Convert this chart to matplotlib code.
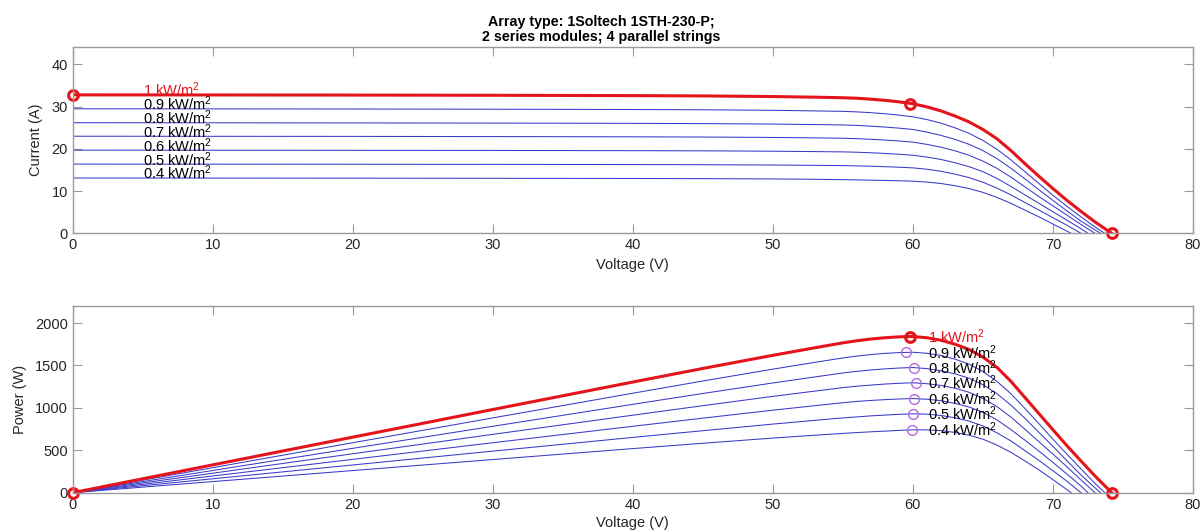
import matplotlib
matplotlib.use("Agg")
import matplotlib.pyplot as plt

# irradiance levels, strongest first
irradiance = ["1", "0.9", "0.8", "0.7", "0.6", "0.5", "0.4"]

# I-V and P-V curves (voltage V, current A, power W)
v_10 = [0, 10, 20, 30, 40, 45, 50, 53, 55, 56, 57, 58, 59, 60, 61, 62, 63, 64, 65, 66, 67, 68, 69, 70, 71, 72, 73, 74.2]
i_10 = [32.8, 32.78, 32.75, 32.7, 32.62, 32.55, 32.4, 32.25, 32.12, 32.0, 31.78, 31.5, 31.15, 30.7,
        29.95, 29.0, 27.8, 26.4, 24.6, 22.4, 19.6, 16.5, 13.5, 10.6, 7.8, 5.2, 2.7, 0]
p_10 = [0, 328, 655, 981, 1305, 1465, 1620, 1709, 1767, 1792, 1812, 1827, 1838, 1842,
        1827, 1798, 1751, 1690, 1599, 1478, 1313, 1122, 932, 742, 554, 374, 197, 0]

v_09 = [0, 10, 20, 30, 40, 45, 50, 53, 55, 56, 57, 58, 59, 60, 61, 62, 63, 64, 65, 66, 67, 68, 69, 70, 71, 72, 73, 73.7]
i_09 = [29.5, 29.48, 29.45, 29.4, 29.33, 29.27, 29.14, 29.0, 28.89, 28.77, 28.58, 28.33, 28.0, 27.6,
        26.95, 26.1, 25.0, 23.7, 22.0, 19.9, 17.4, 14.6, 11.8, 9.0, 6.4, 3.9, 1.5, 0]
p_09 = [0, 295, 589, 882, 1173, 1317, 1457, 1537, 1589, 1611, 1629, 1643, 1652, 1656,
        1644, 1618, 1575, 1517, 1430, 1313, 1166, 993, 814, 630, 454, 281, 110, 0]

v_08 = [0, 10, 20, 30, 40, 45, 50, 53, 55, 56, 57, 58, 59, 60, 61, 62, 63, 64, 65, 66, 67, 68, 69, 70, 71, 72, 73, 73.4]
i_08 = [26.2, 26.18, 26.15, 26.11, 26.05, 25.99, 25.88, 25.76, 25.67, 25.56, 25.38, 25.17, 24.92, 24.6,
        23.98, 23.2, 22.25, 21.1, 19.6, 17.7, 15.4, 12.9, 10.3, 7.8, 5.3, 2.9, 0.8, 0]
p_08 = [0, 262, 523, 783, 1042, 1170, 1294, 1365, 1412, 1431, 1447, 1460, 1470, 1476,
        1463, 1438, 1402, 1350, 1274, 1168, 1032, 877, 711, 546, 376, 209, 58, 0]

v_07 = [0, 10, 20, 30, 40, 45, 50, 53, 55, 56, 57, 58, 59, 60, 61, 62, 63, 64, 65, 66, 67, 68, 69, 70, 71, 72, 73.0]
i_07 = [23.0, 22.98, 22.96, 22.92, 22.86, 22.81, 22.71, 22.61, 22.52, 22.43, 22.27, 22.09, 21.87, 21.6,
        21.07, 20.4, 19.55, 18.5, 17.1, 15.4, 13.3, 11.0, 8.7, 6.5, 4.3, 2.1, 0]
p_07 = [0, 230, 459, 688, 914, 1026, 1136, 1198, 1239, 1256, 1269, 1281, 1290, 1296,
        1285, 1265, 1232, 1184, 1112, 1016, 891, 748, 600, 455, 305, 151, 0]

v_06 = [0, 10, 20, 30, 40, 45, 50, 53, 55, 56, 57, 58, 59, 60, 61, 62, 63, 64, 65, 66, 67, 68, 69, 70, 71, 72, 72.5]
i_06 = [19.7, 19.68, 19.66, 19.63, 19.58, 19.54, 19.45, 19.36, 19.29, 19.21, 19.08, 18.92, 18.73, 18.5,
        18.06, 17.5, 16.72, 15.8, 14.6, 13.0, 11.1, 9.1, 7.1, 5.1, 3.1, 1.1, 0]
p_06 = [0, 197, 393, 589, 783, 879, 973, 1026, 1061, 1076, 1088, 1097, 1105, 1110,
        1102, 1085, 1053, 1011, 949, 858, 744, 619, 490, 357, 220, 79, 0]

v_05 = [0, 10, 20, 30, 40, 45, 50, 53, 55, 56, 57, 58, 59, 60, 61, 62, 63, 64, 65, 66, 67, 68, 69, 70, 71, 72.0]
i_05 = [16.4, 16.38, 16.36, 16.33, 16.29, 16.25, 16.18, 16.1, 16.04, 15.97, 15.89, 15.78, 15.66, 15.5,
        15.18, 14.7, 14.02, 13.2, 12.1, 10.7, 9.1, 7.3, 5.5, 3.7, 1.9, 0]
p_05 = [0, 164, 327, 490, 652, 731, 809, 853, 882, 894, 906, 915, 924, 930,
        926, 911, 883, 845, 787, 706, 610, 496, 380, 259, 135, 0]

v_04 = [0, 10, 20, 30, 40, 45, 50, 53, 55, 56, 57, 58, 59, 60, 61, 62, 63, 64, 65, 66, 67, 68, 69, 70, 71, 71.3]
i_04 = [13.1, 13.08, 13.06, 13.03, 12.99, 12.95, 12.88, 12.8, 12.71, 12.66, 12.59, 12.52, 12.45, 12.35,
        12.14, 11.8, 11.28, 10.6, 9.7, 8.5, 7.1, 5.5, 3.9, 2.2, 0.5, 0]
p_04 = [0, 131, 261, 391, 520, 583, 644, 678, 699, 709, 718, 726, 735, 741,
        741, 732, 711, 678, 631, 561, 476, 374, 269, 154, 36, 0]

# maximum power points
mpp_v = [59.8, 59.5, 60.1, 60.2, 60.1, 60.0, 59.9]
mpp_p = [1835, 1655, 1474, 1294, 1110, 929, 741]
mpp_i_10 = 30.7

volts = [v_10, v_09, v_08, v_07, v_06, v_05, v_04]
amps = [i_10, i_09, i_08, i_07, i_06, i_05, i_04]
watts = [p_10, p_09, p_08, p_07, p_06, p_05, p_04]

RED = "#e3141b"
BLUE = "#3a3ac8"
VIOLET = "#b66ae0"
SPINE = "#999999"
TEXT = "#262626"

plt.rcParams["font.family"] = ["Liberation Sans", "DejaVu Sans"]
plt.rcParams["mathtext.default"] = "regular"
plt.rcParams["axes.edgecolor"] = SPINE
plt.rcParams["axes.linewidth"] = 1.0
plt.rcParams["xtick.color"] = SPINE
plt.rcParams["ytick.color"] = SPINE
plt.rcParams["xtick.labelcolor"] = TEXT
plt.rcParams["ytick.labelcolor"] = TEXT
plt.rcParams["xtick.direction"] = "in"
plt.rcParams["ytick.direction"] = "in"
plt.rcParams["xtick.top"] = True
plt.rcParams["ytick.right"] = True
plt.rcParams["xtick.major.size"] = 6.5
plt.rcParams["ytick.major.size"] = 6.5
plt.rcParams["xtick.labelsize"] = 10.5
plt.rcParams["ytick.labelsize"] = 10.5

fig = plt.figure(figsize=(12.02, 5.30), dpi=100)
ax1 = fig.add_axes([0.0605, 0.5598, 0.932, 0.352])
ax2 = fig.add_axes([0.0605, 0.0704, 0.932, 0.352])

# current vs voltage
for k in range(len(irradiance) - 1, 0, -1):
    ax1.plot(volts[k], amps[k], color=BLUE, lw=0.75)
ax1.plot(v_10, i_10, color=RED, lw=2.2)
ax1.plot([0, mpp_v[0], v_10[-1]], [i_10[0], mpp_i_10, 0], ls="none", marker="o",
         ms=7, mfc="none", mec=RED, mew=2.2, clip_on=False)
for k, g in enumerate(irradiance):
    ax1.text(5, amps[k][0] - 0.35, g + " kW/m$^2$", color=RED if k == 0 else "black",
             fontsize=10.5, va="baseline", ha="left")
ax1.set_xlim(0, 80)
ax1.set_ylim(0, 44.2)
ax1.set_yticks([0, 10, 20, 30, 40])
ax1.set_xlabel("Voltage (V)", fontsize=10.5, color=TEXT, labelpad=4)
ax1.set_ylabel("Current (A)", fontsize=10.5, color=TEXT, labelpad=6)

# power vs voltage
for k in range(len(irradiance) - 1, 0, -1):
    ax2.plot(volts[k], watts[k], color=BLUE, lw=0.75)
ax2.plot(v_10, p_10, color=RED, lw=2.2)
ax2.plot(mpp_v[1:], mpp_p[1:], ls="none", marker="o", ms=7, mfc="none",
         mec=VIOLET, mew=1.0)
ax2.plot([0, mpp_v[0], v_10[-1]], [0, mpp_p[0], 0], ls="none", marker="o",
         ms=7, mfc="none", mec=RED, mew=2.2, clip_on=False)
for k, g in enumerate(irradiance):
    ax2.text(61.1, mpp_p[k], g + " kW/m$^2$", color=RED if k == 0 else "black",
             fontsize=10.5, va="center", ha="left")
ax2.set_xlim(0, 80)
ax2.set_ylim(0, 2200)
ax2.set_yticks([0, 500, 1000, 1500, 2000])
ax2.set_xlabel("Voltage (V)", fontsize=10.5, color=TEXT, labelpad=3)
ax2.set_ylabel("Power (W)", fontsize=10.5, color=TEXT, labelpad=6)

fig.text(0.5, 0.972, "Array type: 1Soltech 1STH-230-P;\n2 series modules; 4 parallel strings",
         ha="center", va="top", fontsize=10.3, fontweight="bold", color="black",
         linespacing=1.1)

fig.savefig("out.png", dpi=100)
